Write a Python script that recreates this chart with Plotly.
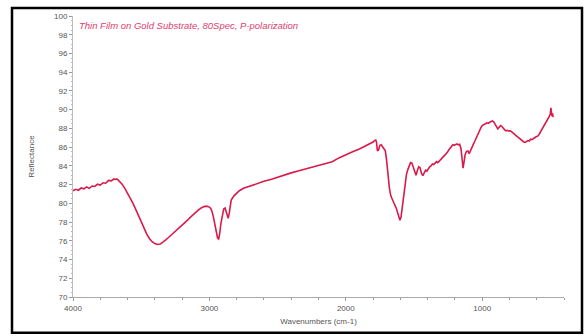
import plotly.graph_objects as go

title_text = "Thin Film on Gold Substrate, 80Spec, P-polarization"
x_title = "Wavenumbers (cm-1)"
y_title = "Reflectance"

wavenumber = [4000, 3980, 3960, 3940, 3920, 3900, 3880, 3860, 3840, 3820, 3800, 3780, 3760, 3740, 3720,
              3700, 3690, 3680, 3670, 3660, 3640, 3620, 3600, 3580, 3560, 3540, 3520, 3500, 3480, 3460,
              3440, 3420, 3400, 3380, 3360, 3340, 3320, 3300, 3280, 3260, 3240, 3220, 3200, 3180, 3160,
              3140, 3120, 3100, 3080, 3060, 3040, 3020, 3000, 2990, 2980, 2970, 2960, 2950, 2940, 2932,
              2925, 2915, 2905, 2895, 2885, 2878, 2870, 2862, 2855, 2848, 2840, 2820, 2800, 2780, 2750,
              2700, 2650, 2600, 2550, 2500, 2450, 2400, 2350, 2300, 2250, 2200, 2150, 2100, 2050, 2000,
              1950, 1900, 1850, 1820, 1800, 1790, 1780, 1775, 1768, 1760, 1750, 1740, 1730, 1720, 1710,
              1700, 1690, 1680, 1670, 1660, 1650, 1640, 1630, 1620, 1610, 1603, 1595, 1585, 1575, 1565,
              1555, 1545, 1535, 1525, 1515, 1505, 1495, 1485, 1475, 1465, 1455, 1445, 1435, 1425, 1415,
              1405, 1395, 1385, 1375, 1365, 1355, 1345, 1335, 1325, 1315, 1305, 1295, 1285, 1275, 1265,
              1255, 1245, 1235, 1225, 1215, 1205, 1195, 1185, 1175, 1165, 1155, 1148, 1140, 1133, 1125,
              1115, 1105, 1095, 1085, 1075, 1065, 1055, 1045, 1035, 1025, 1015, 1005, 995, 985, 975,
              965, 955, 945, 935, 925, 915, 905, 895, 885, 875, 865, 855, 845, 835, 825,
              815, 805, 795, 785, 775, 765, 755, 745, 735, 725, 715, 705, 695, 685, 675,
              665, 655, 645, 635, 625, 615, 605, 595, 585, 575, 565, 555, 545, 535, 525,
              515, 505, 500, 496, 492, 488, 484, 480]

reflectance = [81.35, 81.5, 81.4, 81.65, 81.55, 81.75, 81.6, 81.85, 81.8, 82.05, 81.95, 82.2, 82.15, 82.45, 82.4,
               82.6, 82.55, 82.6, 82.5, 82.35, 82.05, 81.6, 81.1, 80.6, 80.0, 79.35, 78.7, 78.0, 77.35, 76.75,
               76.25, 75.9, 75.7, 75.6, 75.65, 75.85, 76.1, 76.35, 76.6, 76.85, 77.1, 77.35, 77.6, 77.9, 78.2,
               78.5, 78.8, 79.05, 79.3, 79.5, 79.65, 79.7, 79.6, 79.45, 79.1, 78.5, 77.7, 76.9, 76.3, 76.2,
               76.7, 77.9, 78.9, 79.4, 79.5, 79.2, 78.7, 78.4, 78.9, 79.8, 80.35, 80.8, 81.1, 81.35, 81.6,
               81.85, 82.15, 82.35, 82.55, 82.8, 83.0, 83.25, 83.45, 83.65, 83.85, 84.0, 84.2, 84.45, 84.85, 85.2,
               85.5, 85.8, 86.15, 86.4, 86.55, 86.7, 86.75, 86.55, 85.6, 85.7, 86.2, 86.25, 86.0, 85.8, 85.6,
               84.5, 82.9, 81.6, 80.8, 80.4, 80.1, 79.8, 79.5, 79.0, 78.5, 78.2, 78.5, 79.8, 81.2, 82.3,
               83.1, 83.6, 84.0, 84.35, 84.3, 83.9, 83.4, 83.0, 83.5, 83.9, 83.8, 83.2, 82.95, 83.3, 83.55,
               83.45, 83.7, 83.9, 84.0, 84.2, 84.15, 84.3, 84.45, 84.35, 84.5, 84.7, 84.8, 84.95, 85.1, 85.3,
               85.45, 85.7, 85.9, 86.15, 86.25, 86.2, 86.3, 86.35, 86.25, 86.3, 85.8, 84.9, 83.75, 84.4, 85.2,
               85.55, 85.6, 85.3, 85.7, 86.1, 86.3, 86.6, 86.95, 87.25, 87.6, 87.95, 88.2, 88.35, 88.4, 88.5,
               88.6, 88.55, 88.65, 88.75, 88.8, 88.7, 88.5, 88.2, 87.95, 88.15, 88.3, 88.2, 87.95, 87.85, 87.75,
               87.8, 87.7, 87.75, 87.65, 87.5, 87.4, 87.3, 87.15, 87.05, 86.9, 86.75, 86.65, 86.55, 86.5, 86.6,
               86.7, 86.65, 86.85, 86.8, 86.95, 87.0, 87.1, 87.15, 87.3, 87.55, 87.8, 88.1, 88.4, 88.6, 88.8,
               89.1, 89.35, 89.6, 90.2, 89.7, 89.3, 89.6, 89.2]

y_ticks = list(range(70, 101, 2))
x_ticks = [4000, 3000, 2000, 1000]

fig = go.Figure()
fig.add_trace(go.Scatter(x=wavenumber, y=reflectance, mode="lines",
                         line=dict(color="#d81b4a", width=1.6), hoverinfo="skip"))

L, R, T, B = 73, 22, 16, 37
W, H = 586, 336
pw, ph = W - L - R, H - T - B

fig.update_layout(
    width=W, height=H,
    margin=dict(l=L, r=R, t=T, b=B),
    paper_bgcolor="white", plot_bgcolor="white",
    showlegend=False,
    font=dict(family="Liberation Sans, Arial, sans-serif", color="#555555", size=8),
    xaxis=dict(range=[4000, 400], tickvals=x_ticks, ticktext=[str(v) for v in x_ticks],
               showgrid=False, zeroline=False, showline=True, linecolor="#aaaaaa", linewidth=1,
               ticks="outside", ticklen=3, tickcolor="#999999",
               minor=dict(dtick=200, ticks="outside", ticklen=2, tickcolor="#999999"),
               tickfont=dict(size=8, color="#555555"),
               title=dict(text=x_title, font=dict(size=8, color="#555555"), standoff=6)),
    yaxis=dict(range=[70, 100], tickvals=y_ticks, ticktext=[str(v) for v in y_ticks],
               showgrid=False, zeroline=False, showline=True, linecolor="#bbbbbb", linewidth=1,
               ticks="outside", ticklen=3, tickcolor="#999999",
               minor=dict(dtick=0.5, ticks="outside", ticklen=1, tickcolor="#bbbbbb"),
               tickfont=dict(size=8, color="#555555"),
               title=dict(text=y_title, font=dict(size=8, color="#555555"), standoff=18)),
)

fig.add_annotation(text="<i>" + title_text + "</i>", xref="paper", yref="paper",
                   x=(77 - L) / pw, y=(H - B - 26) / ph, xanchor="left", yanchor="middle",
                   showarrow=False, font=dict(size=9.5, color="#e0406e",
                                              family="Liberation Sans, Arial, sans-serif"))

fig.add_shape(type="rect", xref="paper", yref="paper",
              x0=(12 - L) / pw, x1=(582 - L) / pw,
              y0=(H - B - 335) / ph, y1=(H - B - 8) / ph,
              line=dict(color="black", width=2.5), layer="above")

fig.write_html("out.html")
